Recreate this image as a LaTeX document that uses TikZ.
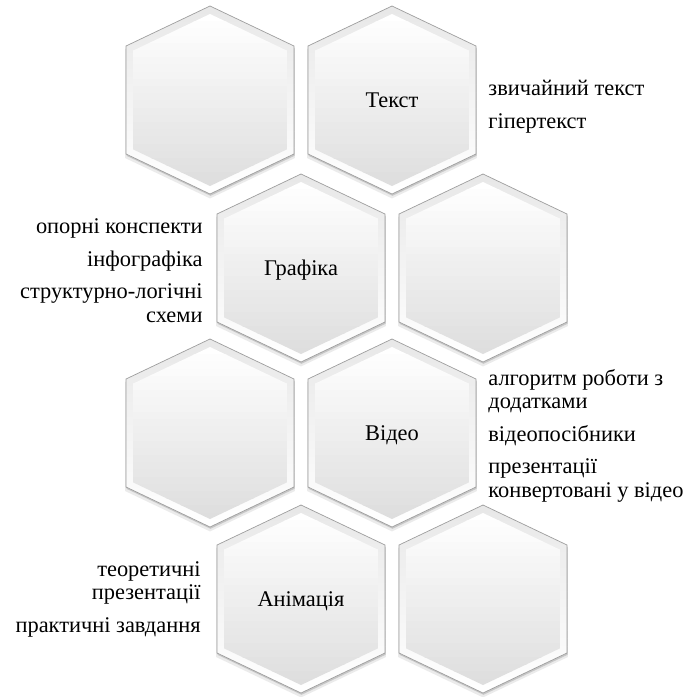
\documentclass[tikz,border=0pt]{standalone}
\usepackage{fontspec}
\setmainfont{Liberation Serif}

\tikzset{
  hexline/.style={draw=black!38, line width=0.35pt},
  hexlabel/.style={font=\fontsize{11.2}{12}\selectfont, inner sep=0pt, text height=7.8pt, text depth=0pt},
  note/.style={font=\fontsize{11.2}{11.6}\selectfont, inner sep=0pt},
}
% hexagon outline around the origin, pointy top
\newcommand\hexpath{(0,94) -- (84,54) -- (84,-54) -- (0,-94) -- (-84,-54) -- (-84,54) -- cycle}
% name, x, y, label
\newcommand\honeycell[4]{%
  \begin{scope}[shift={(#2,#3)}]
    \fill[black!8, shift={(0,-3.5)}, scale=1.01] \hexpath;
    \fill[black!22, shift={(0.5,-1.8)}] \hexpath;
    % bevel rim, grey at the top, white at the bottom
    \begin{scope}
      \clip \hexpath;
      \foreach \i [evaluate=\i as \p using 9-9*\i/23] in {0,...,23}
        \fill[black!\p] (-90,{94-\i*7.84}) rectangle (90,{94-(\i+1)*7.84-0.6});
    \end{scope}
    \draw[hexline] \hexpath;
    % face, white at the top, grey at the bottom
    \begin{scope}
      \clip[scale=0.915] \hexpath;
      \foreach \i [evaluate=\i as \p using 13*\i/23] in {0,...,23}
        \fill[black!\p] (-90,{86-\i*7.2}) rectangle (90,{86-(\i+1)*7.2-0.6});
    \end{scope}
  \end{scope}
  \node[hexlabel] (#1) at (#2,#3) {#4};
}

\begin{document}
\begin{tikzpicture}[x=0.5pt, y=0.5pt]
	\useasboundingbox (0,0) rectangle (690,-697);

	\honeycell{blankA}{210}{-100}{}
	\honeycell{tekst}{392}{-100}{Текст}
	\honeycell{grafika}{301}{-268}{Графіка}
	\honeycell{blankB}{483}{-268}{}
	\honeycell{blankC}{210}{-433}{}
	\honeycell{video}{392}{-433}{Відео}
	\honeycell{animacia}{301}{-599}{Анімація}
	\honeycell{blankD}{483}{-599}{}

	% base anchor of a multi-line node sits on its last line
	\node[note, anchor=base west, align=left] (tekstnote) at (488,-128)
		{звичайний текст\\[4.8pt] гіпертекст};
	\node[note, anchor=base east, align=right] (grafikanote) at (203,-322)
		{опорні конспекти\\[4.8pt] інфографіка\\[4.8pt] структурно-логічні\\ схеми};
	\node[note, anchor=base west, align=left] (videonote) at (488,-497)
		{алгоритм роботи з\\ додатками\\[4.8pt] відеопосібники\\[4.8pt] презентації\\ конвертовані у відео};
	\node[note, anchor=base east, align=right] (animacianote) at (201,-632)
		{теоретичні\\ презентації\\[4.8pt] практичні завдання};
\end{tikzpicture}
\end{document}
